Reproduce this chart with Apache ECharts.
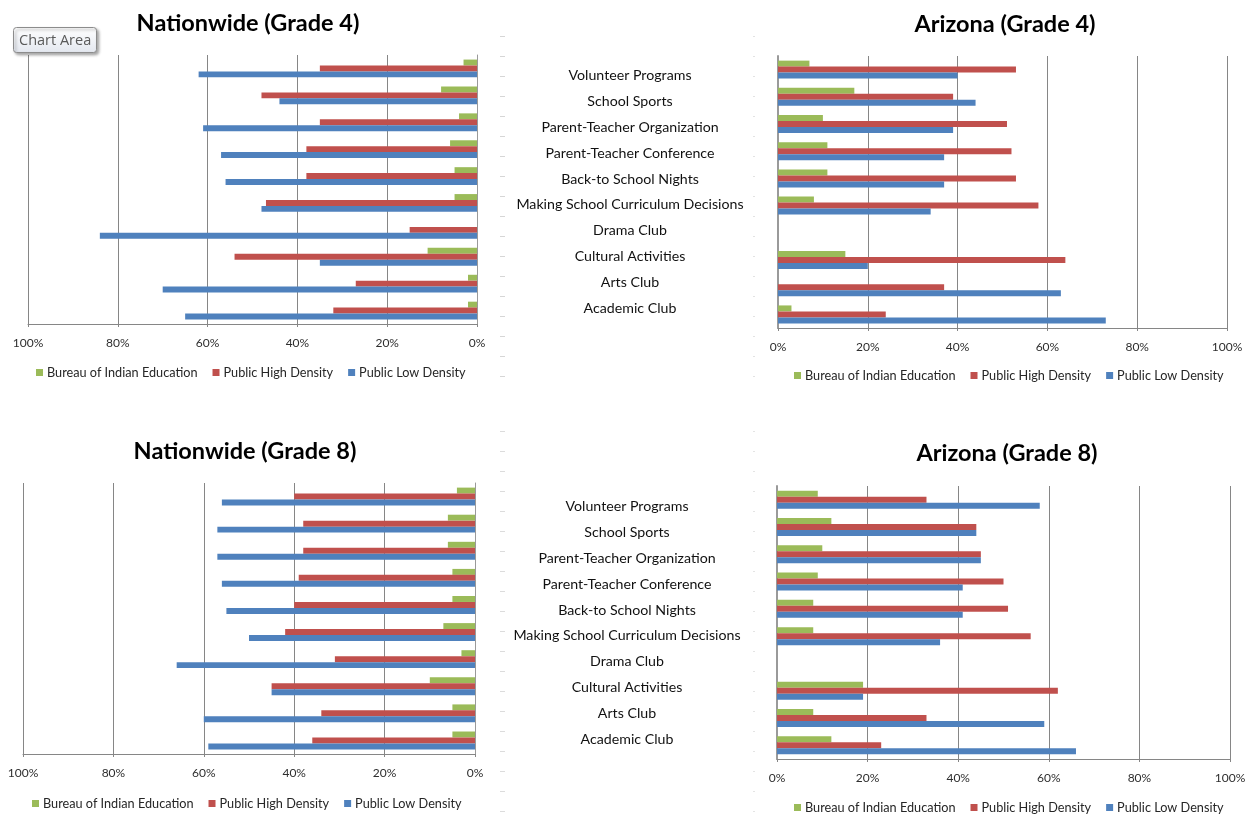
<!DOCTYPE html>
<html>
<head>
<meta charset="utf-8">
<title>Parent involvement activities</title>
<script src="https://cdn.jsdelivr.net/npm/echarts@6/dist/echarts.min.js"></script>
<style>
  html, body { margin: 0; padding: 0; background: #ffffff; }
  #chart { width: 1253px; height: 823px; }
</style>
</head>
<body>
<div id="chart"></div>
<script>
// Activity categories, listed top to bottom
const activities = [
  'Volunteer Programs', 'School Sports', 'Parent-Teacher Organization',
  'Parent-Teacher Conference', 'Back-to School Nights',
  'Making School Curriculum Decisions', 'Drama Club', 'Cultural Activities',
  'Arts Club', 'Academic Club'
];
const seriesNames = ['Bureau of Indian Education', 'Public High Density', 'Public Low Density'];

// Percent of students, Nationwide Grade 4
const nation4Bie  = [3, 8, 4, 6, 5, 5, null, 11, 2, 2];
const nation4High = [35, 48, 35, 38, 38, 47, 15, 54, 27, 32];
const nation4Low  = [62, 44, 61, 57, 56, 48, 84, 35, 70, 65];

// Percent of students, Arizona Grade 4
const arizona4Bie  = [7, 17, 10, 11, 11, 8, null, 15, null, 3];
const arizona4High = [53, 39, 51, 52, 53, 58, null, 64, 37, 24];
const arizona4Low  = [40, 44, 39, 37, 37, 34, null, 20, 63, 73];

// Percent of students, Nationwide Grade 8
const nation8Bie  = [4, 6, 6, 5, 5, 7, 3, 10, 5, 5];
const nation8High = [40, 38, 38, 39, 40, 42, 31, 45, 34, 36];
const nation8Low  = [56, 57, 57, 56, 55, 50, 66, 45, 60, 59];

// Percent of students, Arizona Grade 8
const arizona8Bie  = [9, 12, 10, 9, 8, 8, null, 19, 8, 12];
const arizona8High = [33, 44, 45, 50, 51, 56, null, 62, 33, 23];
const arizona8Low  = [58, 44, 45, 41, 41, 36, null, 19, 59, 66];

// Value axis range (percent)
const axisMin = 0;
const axisMax = 100;
const axisStep = 20;

const COLORS = ['#9bbb59', '#c0504d', '#4f81bd'];
const GRID_LINE = '#868686';
const FONT = 'Lato, "Open Sans", sans-serif';

const panels = [
  { title: 'Nationwide (Grade 4)', values: [nation4Bie, nation4High, nation4Low], reversed: true,
    grid: { left: 28, top: 55, width: 449, height: 269 }, titleAt: [248, 11], legendAt: [36, 366] },
  { title: 'Arizona (Grade 4)', values: [arizona4Bie, arizona4High, arizona4Low], reversed: false,
    grid: { left: 778, top: 56, width: 449, height: 272 }, titleAt: [1005, 12], legendAt: [794, 369] },
  { title: 'Nationwide (Grade 8)', values: [nation8Bie, nation8High, nation8Low], reversed: true,
    grid: { left: 23, top: 483, width: 452, height: 271 }, titleAt: [245, 439], legendAt: [32, 797] },
  { title: 'Arizona (Grade 8)', values: [arizona8Bie, arizona8High, arizona8Low], reversed: false,
    grid: { left: 777, top: 486, width: 453, height: 273 }, titleAt: [1007, 441], legendAt: [794, 801] }
];

const grid = [], xAxis = [], yAxis = [], series = [], title = [], legend = [];

panels.forEach((p, i) => {
  grid.push(Object.assign({ containLabel: false }, p.grid));
  xAxis.push({
    type: 'value', gridIndex: i, min: axisMin, max: axisMax, interval: axisStep,
    inverse: p.reversed,
    axisLine: { show: true, lineStyle: { color: GRID_LINE, width: 1 } },
    axisTick: { show: true, length: 3, lineStyle: { color: GRID_LINE } },
    splitLine: { show: true, lineStyle: { color: GRID_LINE, width: 1 } },
    axisLabel: { formatter: '{value}%', fontSize: 12, color: '#2e2e2e', fontFamily: FONT, margin: 13 }
  });
  yAxis.push({
    type: 'category', gridIndex: i, data: activities, inverse: true,
    position: p.reversed ? 'right' : 'left',
    axisLine: { show: true, lineStyle: { color: '#9a9a9a', width: p.reversed ? 1 : 2 } },
    axisTick: { show: false },
    axisLabel: { show: false },
    splitLine: { show: false }
  });
  p.values.forEach((vals, k) => {
    series.push({
      type: 'bar', name: seriesNames[k], xAxisIndex: i, yAxisIndex: i,
      data: vals, barGap: '0%', barCategoryGap: '34%',
      itemStyle: { color: COLORS[k] },
      silent: true
    });
  });
  title.push({
    text: p.title, left: p.titleAt[0], top: p.titleAt[1], textAlign: 'center', padding: 0,
    textStyle: { fontFamily: FONT, fontSize: 23.5, fontWeight: 'bold', color: '#000000' }
  });
  legend.push({
    data: seriesNames, left: p.legendAt[0], top: p.legendAt[1], padding: 0,
    itemWidth: 7, itemHeight: 7, itemGap: 15, icon: 'rect', selectedMode: false,
    textStyle: { fontFamily: FONT, fontSize: 12.7, color: '#262626', padding: [0, 0, 0, -1] }
  });
});

// Shared category labels between the Nationwide and Arizona panels
const labelColumns = [
  { top: 63, height: 258, center: 630 },
  { top: 494, height: 258, center: 627 }
];
labelColumns.forEach(c => {
  const idx = grid.length;
  grid.push({ left: 700, top: c.top, width: 10, height: c.height });
  xAxis.push({ type: 'value', gridIndex: idx, show: false });
  yAxis.push({
    type: 'category', gridIndex: idx, data: activities, inverse: true,
    axisLine: { show: false }, axisTick: { show: false }, splitLine: { show: false },
    axisLabel: { show: true, interval: 0, align: 'center', margin: 700 - c.center,
      fontFamily: FONT, fontSize: 14.2, color: '#111111' }
  });
});

// Faint guide ticks along the edges of the label column
const guideColumns = [
  { left: 505, top: 36, height: 340, steps: 17, length: 5, color: '#d6d6d6' },
  { left: 755, top: 36, height: 340, steps: 17, length: 2, color: '#e2e2e2' },
  { left: 505, top: 431, height: 380, steps: 19, length: 5, color: '#dcdcdc' },
  { left: 755, top: 431, height: 380, steps: 19, length: 2, color: '#e4e4e4' }
];
guideColumns.forEach(g => {
  const idx = grid.length;
  grid.push({ left: g.left, top: g.top, width: 1, height: g.height });
  xAxis.push({ type: 'value', gridIndex: idx, show: false });
  yAxis.push({
    type: 'value', gridIndex: idx, min: 0, max: g.steps, interval: 1,
    axisLine: { show: false }, axisLabel: { show: false }, splitLine: { show: false },
    axisTick: { show: true, length: g.length, lineStyle: { color: g.color, width: 1 } }
  });
});

// Selection badge in the top-left corner
title.push({
  text: 'Chart Area', left: 13, top: 27, padding: [5, 6, 4, 6],
  backgroundColor: new echarts.graphic.LinearGradient(0, 0, 0, 1, [
    { offset: 0, color: '#ffffff' }, { offset: 1, color: '#e3e7ef' }
  ]),
  borderColor: '#8c8c8c', borderWidth: 1, borderRadius: 3,
  shadowBlur: 3, shadowColor: 'rgba(0,0,0,0.35)', shadowOffsetX: 2, shadowOffsetY: 2,
  textStyle: { fontFamily: '"Open Sans", sans-serif', fontSize: 14.5, fontWeight: 'normal', color: '#5a5a5a', lineHeight: 17 }
});

const chart = echarts.init(document.getElementById('chart'), null, { renderer: 'canvas' });
chart.setOption({
  animation: false,
  backgroundColor: '#ffffff',
  title, legend, grid, xAxis, yAxis, series
});
</script>
</body>
</html>
